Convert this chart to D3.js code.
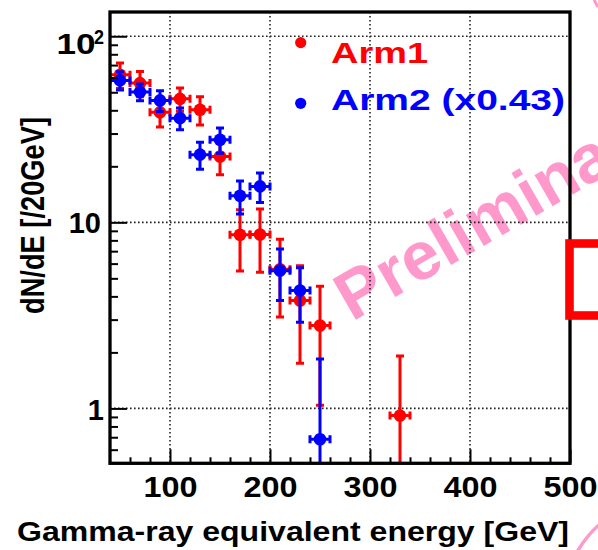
<!DOCTYPE html>
<html><head><meta charset="utf-8">
<script src="https://cdn.jsdelivr.net/npm/d3@7"></script>
<style>html,body{margin:0;padding:0;background:#fff;} svg{display:block;}</style>
</head><body>
<svg id="c" width="598" height="550"></svg>
<script>
// ---- data ----
const energy1 = [50,70,90,110,130,150,170,190,210,230,250,330];
const arm1    = [62.1,56.0,39.0,46.1,40.3,22.6,8.57,8.6,5.6,3.8,2.79,0.915];
const arm1Err = [9.7,8.7,6.5,6.6,7.0,4.6,3.1,3.2,2.5,2.05,1.75,1.0];
const energy2 = [50,70,90,110,130,150,170,190,210,230,250];
const arm2    = [57.9,50.2,45.2,36.3,23.1,27.8,13.9,15.6,5.5,4.3,0.683];
const arm2Err = [6.5,5.2,5.8,4.9,3.8,4.3,2.8,2.8,1.7,1.4,1.16];
const binHalf = 10;
const xTickLabels = [100,200,300,400,500];
const xMinorTicks = [60,80,120,140,160,180,220,240,260,280,320,340,360,380,420,440,460,480];
const yTickLabels = [1,10,100];
const yMinorTicks = [0.6,0.7,0.8,0.9,2,3,4,5,6,7,8,9,20,30,40,50,60,70,80,90];
const legendLabels = ["Arm1","Arm2 (x0.43)"];
const xTitle = "Gamma-ray equivalent energy [GeV]";
const yTitle = "dN/dE [/20GeV]";
const watermark = "Preliminary";

const FONT = "'Liberation Sans', Arial, Helvetica, sans-serif";
const L = 110, R = 570, T = 12, B = 463.3;
const RED = "#ff0000", BLUE = "#0000ff", PINK = "#ff99cc";

const svg = d3.select("#c");
svg.append("rect").attr("width",598).attr("height",550).attr("fill","#fff");

const x = d3.scaleLinear().domain([40,500]).range([L,R]);
const y = d3.scaleLog().domain([0.507,135]).range([B,T]);

// watermark (under grid)
svg.append("text").text(watermark)
  .attr("transform","translate(352,322) rotate(-30)")
  .attr("font-family",FONT).attr("font-weight","bold").attr("font-size",68)
  .attr("fill",PINK);

// grid
const grid = svg.append("g").attr("stroke","#222").attr("stroke-width",1.6).attr("stroke-dasharray","1.6,2.4");
grid.selectAll(".gx").data(xTickLabels.filter(v=>v<500)).join("line")
  .attr("x1",d=>x(d)).attr("x2",d=>x(d)).attr("y1",T).attr("y2",B);
grid.selectAll(".gy").data(yTickLabels).join("line")
  .attr("x1",L).attr("x2",R).attr("y1",d=>y(d)).attr("y2",d=>y(d));

// clip
svg.append("clipPath").attr("id","pc").append("rect").attr("x",L).attr("y",T).attr("width",R-L).attr("height",B-T);

function drawSeries(E, V, Err, color){
  const g = svg.append("g").attr("clip-path","url(#pc)").attr("stroke",color).attr("fill",color).attr("stroke-width",3);
  const pts = E.map((e,i)=>({e, v:V[i], err:Err[i]}));
  const cap = 4;
  pts.forEach(p=>{
    const cx = x(p.e), cy = y(p.v);
    const yt = y(p.v + p.err);
    const yb = y(Math.max(p.v - p.err, 0.2));
    const xl = x(p.e - binHalf), xr = x(p.e + binHalf);
    g.append("line").attr("x1",cx).attr("x2",cx).attr("y1",yt).attr("y2",yb);
    g.append("line").attr("x1",xl).attr("x2",xr).attr("y1",cy).attr("y2",cy);
    g.append("line").attr("x1",cx-cap).attr("x2",cx+cap).attr("y1",yt).attr("y2",yt);
    if (p.v - p.err > 0.3) g.append("line").attr("x1",cx-cap).attr("x2",cx+cap).attr("y1",yb).attr("y2",yb);
    g.append("line").attr("x1",xl).attr("x2",xl).attr("y1",cy-cap).attr("y2",cy+cap);
    g.append("line").attr("x1",xr).attr("x2",xr).attr("y1",cy-cap).attr("y2",cy+cap);
    g.append("circle").attr("cx",cx).attr("cy",cy).attr("r",6.3).attr("stroke","none");
  });
}
drawSeries(energy1, arm1, arm1Err, RED);
drawSeries(energy2, arm2, arm2Err, BLUE);

// frame
svg.append("rect").attr("x",L).attr("y",T).attr("width",R-L).attr("height",B-T)
  .attr("fill","none").attr("stroke","#000").attr("stroke-width",3.3);

// x axis
const gxMin = svg.append("g").attr("transform",`translate(0,${B})`)
  .call(d3.axisBottom(x).tickValues(xMinorTicks).tickSize(-6).tickFormat(""));
const gx = svg.append("g").attr("transform",`translate(0,${B})`)
  .call(d3.axisBottom(x).tickValues(xTickLabels).tickSize(-14).tickFormat(d3.format("d")));
[gxMin,gx].forEach(g=>{ g.select(".domain").remove(); g.selectAll("line").attr("stroke","#000").attr("stroke-width",2); });
gx.selectAll("text").attr("y",33.4).attr("dy",null)
  .attr("font-family",FONT).attr("font-weight","bold").attr("font-size",30).attr("fill","#000")
  .attr("textLength",54).attr("lengthAdjust","spacingAndGlyphs");

// y axis
const gyMin = svg.append("g").attr("transform",`translate(${L},0)`)
  .call(d3.axisLeft(y).tickValues(yMinorTicks).tickSize(-8).tickFormat(""));
const gy = svg.append("g").attr("transform",`translate(${L},0)`)
  .call(d3.axisLeft(y).tickValues(yTickLabels).tickSize(-17).tickFormat(d => d===100 ? "" : String(d)));
[gyMin,gy].forEach(g=>{ g.select(".domain").remove(); g.selectAll("line").attr("stroke","#000").attr("stroke-width",2); });
gy.selectAll("text").attr("dy",null).attr("y",10.6)
  .attr("font-family",FONT).attr("font-weight","bold").attr("font-size",29).attr("fill","#000")
  .attr("x", d => d===1 ? -6 : -9);
// 10^2 label
gy.selectAll(".tick").filter(d=>d===100).each(function(){
  const t = d3.select(this);
  t.append("text").text("10").attr("x",-53.5).attr("y",17).attr("text-anchor","start")
    .attr("font-family",FONT).attr("font-weight","bold").attr("font-size",30).attr("fill","#000")
    .attr("textLength",39).attr("lengthAdjust","spacingAndGlyphs");
  t.append("text").text("2").attr("x",-16).attr("y",6.8).attr("text-anchor","start")
    .attr("font-family",FONT).attr("font-weight","bold").attr("font-size",21).attr("fill","#000")
    .attr("textLength",10).attr("lengthAdjust","spacingAndGlyphs");
});

// axis titles
svg.append("text").text(xTitle).attr("x",17).attr("y",540.5)
  .attr("font-family",FONT).attr("font-weight","bold").attr("font-size",27.5).attr("fill","#000")
  .attr("textLength",552).attr("lengthAdjust","spacingAndGlyphs");
svg.append("text").text(yTitle)
  .attr("transform","translate(43.5,215.5) rotate(-90)").attr("text-anchor","middle")
  .attr("font-family",FONT).attr("font-weight","bold").attr("font-size",33).attr("fill","#000")
  .attr("textLength",197).attr("lengthAdjust","spacingAndGlyphs");

// legend
const leg = [{c:RED, cy:42.6, by:63.3, tl:97},{c:BLUE, cy:103.3, by:110, tl:234}];
leg.forEach((l,i)=>{
  svg.append("circle").attr("cx",300.7).attr("cy",l.cy).attr("r",5.6).attr("fill",l.c);
  svg.append("text").text(legendLabels[i]).attr("x",331).attr("y",l.by)
    .attr("font-family",FONT).attr("font-weight","bold").attr("font-size",30).attr("fill",l.c)
    .attr("textLength",l.tl).attr("lengthAdjust","spacingAndGlyphs");
});

// red rectangle overlay & pink arc
svg.append("rect").attr("x",569.5).attr("y",243.5).attr("width",60).attr("height",72)
  .attr("fill","none").attr("stroke",RED).attr("stroke-width",8.6);
svg.append("path").attr("d","M577,552 Q587,535 600,524").attr("fill","none").attr("stroke",PINK).attr("stroke-width",3.5);
svg.append("path").attr("d","M594,0 L598,7").attr("fill","none").attr("stroke",PINK).attr("stroke-width",3);
</script>
</body></html>
